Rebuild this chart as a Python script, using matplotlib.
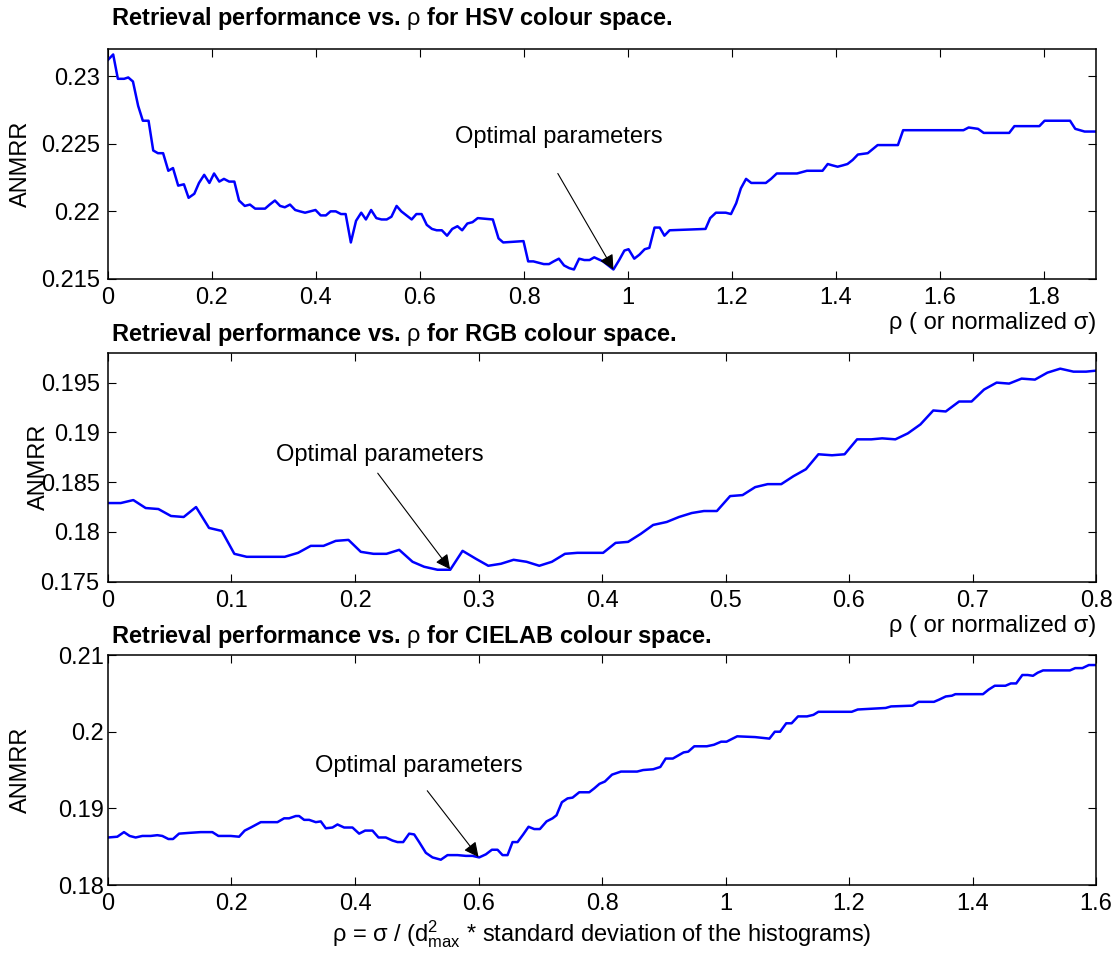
import numpy as np
import matplotlib
matplotlib.use("Agg")
import matplotlib.pyplot as plt
from matplotlib import font_manager
from matplotlib.ticker import FormatStrFormatter

# ==========================================
# Data
# ==========================================

# HSV colour space
hsv_rho = [0.000, 0.010, 0.019, 0.031, 0.039, 0.048, 0.058, 0.067, 0.078, 0.087,
           0.096, 0.106, 0.116, 0.125, 0.135, 0.146, 0.155, 0.166, 0.175, 0.185,
           0.195, 0.204, 0.214, 0.223, 0.233, 0.243, 0.252, 0.263, 0.273, 0.283,
           0.292, 0.302, 0.311, 0.321, 0.331, 0.340, 0.350, 0.360, 0.369, 0.379,
           0.389, 0.399, 0.409, 0.419, 0.428, 0.438, 0.448, 0.457, 0.467, 0.477,
           0.487, 0.496, 0.506, 0.516, 0.526, 0.536, 0.545, 0.555, 0.564, 0.574,
           0.584, 0.593, 0.603, 0.613, 0.623, 0.632, 0.642, 0.652, 0.662, 0.672,
           0.681, 0.691, 0.701, 0.711, 0.740, 0.751, 0.760, 0.799, 0.808, 0.818,
           0.838, 0.848, 0.857, 0.867, 0.877, 0.887, 0.896, 0.906, 0.916, 0.926,
           0.935, 0.952, 0.962, 0.972, 0.983, 0.993, 1.001, 1.012, 1.022, 1.032,
           1.041, 1.051, 1.061, 1.070, 1.080, 1.149, 1.158, 1.169, 1.188, 1.198,
           1.208, 1.217, 1.227, 1.237, 1.265, 1.275, 1.286, 1.325, 1.344, 1.374,
           1.384, 1.393, 1.403, 1.413, 1.422, 1.432, 1.442, 1.461, 1.480, 1.519,
           1.529, 1.558, 1.587, 1.645, 1.655, 1.673, 1.684, 1.733, 1.743, 1.791,
           1.801, 1.850, 1.860, 1.878, 1.900]
hsv_anmrr = [0.2312, 0.2316, 0.2298, 0.2298, 0.2299, 0.2296, 0.2278, 0.2267, 0.2267, 0.2245,
             0.2243, 0.2243, 0.2230, 0.2232, 0.2219, 0.2220, 0.2210, 0.2213, 0.2221, 0.2227,
             0.2221, 0.2228, 0.2222, 0.2224, 0.2222, 0.2222, 0.2208, 0.2204, 0.2205, 0.2202,
             0.2202, 0.2202, 0.2205, 0.2208, 0.2204, 0.2203, 0.2205, 0.2201, 0.2200, 0.2199,
             0.2200, 0.2201, 0.2197, 0.2197, 0.2200, 0.2200, 0.2198, 0.2198, 0.2177, 0.2193,
             0.2199, 0.2194, 0.2201, 0.2195, 0.2194, 0.2194, 0.2196, 0.2204, 0.2200, 0.2197,
             0.2194, 0.2198, 0.2198, 0.2190, 0.2187, 0.2186, 0.2186, 0.2182, 0.2187, 0.2189,
             0.2186, 0.2191, 0.2192, 0.2195, 0.2194, 0.2180, 0.2177, 0.2178, 0.2163, 0.2163,
             0.2161, 0.2161, 0.2163, 0.2165, 0.2160, 0.2158, 0.2157, 0.2165, 0.2164, 0.2164,
             0.2166, 0.2163, 0.2160, 0.2157, 0.2164, 0.2171, 0.2172, 0.2165, 0.2168, 0.2172,
             0.2173, 0.2188, 0.2188, 0.2182, 0.2186, 0.2187, 0.2195, 0.2199, 0.2199, 0.2198,
             0.2206, 0.2217, 0.2224, 0.2221, 0.2221, 0.2224, 0.2228, 0.2228, 0.2230, 0.2230,
             0.2235, 0.2234, 0.2233, 0.2234, 0.2235, 0.2238, 0.2242, 0.2243, 0.2249, 0.2249,
             0.2260, 0.2260, 0.2260, 0.2260, 0.2262, 0.2261, 0.2258, 0.2258, 0.2263, 0.2263,
             0.2267, 0.2267, 0.2261, 0.2259, 0.2259]

# RGB colour space
rgb_rho = [0.0000, 0.0103, 0.0205, 0.0305, 0.0408, 0.0510, 0.0613, 0.0713, 0.0818, 0.0921,
           0.1023, 0.1123, 0.1226, 0.1329, 0.1431, 0.1539, 0.1642, 0.1745, 0.1844, 0.1947,
           0.2047, 0.2150, 0.2255, 0.2358, 0.2466, 0.2560, 0.2668, 0.2771, 0.2871, 0.2979,
           0.3079, 0.3181, 0.3284, 0.3389, 0.3492, 0.3594, 0.3700, 0.3800, 0.3900, 0.4009,
           0.4110, 0.4211, 0.4313, 0.4414, 0.4524, 0.4623, 0.4727, 0.4825, 0.4930, 0.5037,
           0.5138, 0.5240, 0.5341, 0.5451, 0.5550, 0.5651, 0.5752, 0.5862, 0.5964, 0.6065,
           0.6181, 0.6268, 0.6375, 0.6476, 0.6578, 0.6682, 0.6783, 0.6891, 0.6992, 0.7093,
           0.7195, 0.7296, 0.7397, 0.7505, 0.7606, 0.7710, 0.7817, 0.7919, 0.8000]
rgb_anmrr = [0.1829, 0.1829, 0.1832, 0.1824, 0.1823, 0.1816, 0.1815, 0.1825, 0.1804, 0.1801,
             0.1778, 0.1775, 0.1775, 0.1775, 0.1775, 0.1779, 0.1786, 0.1786, 0.1791, 0.1792,
             0.1780, 0.1778, 0.1778, 0.1782, 0.1770, 0.1765, 0.1762, 0.1762, 0.1781, 0.1773,
             0.1766, 0.1768, 0.1772, 0.1770, 0.1766, 0.1770, 0.1778, 0.1779, 0.1779, 0.1779,
             0.1789, 0.1790, 0.1798, 0.1807, 0.1810, 0.1815, 0.1819, 0.1821, 0.1821, 0.1836,
             0.1837, 0.1845, 0.1848, 0.1848, 0.1856, 0.1863, 0.1878, 0.1877, 0.1878, 0.1893,
             0.1893, 0.1894, 0.1893, 0.1899, 0.1908, 0.1922, 0.1921, 0.1931, 0.1931, 0.1943,
             0.1950, 0.1949, 0.1954, 0.1953, 0.1960, 0.1964, 0.1961, 0.1961, 0.1962]

# CIELAB colour space
lab_rho = [0.0000, 0.0151, 0.0259, 0.0351, 0.0448, 0.0556, 0.0691, 0.0799, 0.0880, 0.0978,
           0.1053, 0.1150, 0.1312, 0.1501, 0.1690, 0.1788, 0.1988, 0.2123, 0.2214, 0.2312,
           0.2474, 0.2744, 0.2852, 0.2933, 0.3041, 0.3095, 0.3176, 0.3257, 0.3365, 0.3446,
           0.3527, 0.3635, 0.3716, 0.3824, 0.3959, 0.4067, 0.4164, 0.4283, 0.4380, 0.4499,
           0.4607, 0.4688, 0.4780, 0.4877, 0.4958, 0.5039, 0.5147, 0.5255, 0.5390, 0.5498,
           0.5660, 0.5795, 0.5903, 0.6011, 0.6119, 0.6217, 0.6308, 0.6389, 0.6470, 0.6551,
           0.6632, 0.6724, 0.6810, 0.6902, 0.6994, 0.7102, 0.7199, 0.7263, 0.7350, 0.7442,
           0.7523, 0.7631, 0.7793, 0.7873, 0.7959, 0.8046, 0.8162, 0.8307, 0.8568, 0.8666,
           0.8828, 0.8944, 0.9031, 0.9147, 0.9234, 0.9321, 0.9396, 0.9494, 0.9697, 0.9813,
           0.9929, 1.0016, 1.0189, 1.0479, 1.0711, 1.0798, 1.0884, 1.0983, 1.1070, 1.1174,
           1.1319, 1.1423, 1.1504, 1.2043, 1.2141, 1.2361, 1.2593, 1.2680, 1.3027, 1.3126,
           1.3375, 1.3462, 1.3566, 1.3665, 1.3722, 1.4169, 1.4261, 1.4360, 1.4533, 1.4620,
           1.4707, 1.4806, 1.4893, 1.4979, 1.5055, 1.5142, 1.5576, 1.5663, 1.5779, 1.5883,
           1.6000]
lab_anmrr = [0.1862, 0.1863, 0.1869, 0.1864, 0.1862, 0.1864, 0.1864, 0.1865, 0.1864, 0.1860,
             0.1860, 0.1867, 0.1868, 0.1869, 0.1869, 0.1864, 0.1864, 0.1863, 0.1871, 0.1875,
             0.1882, 0.1882, 0.1887, 0.1887, 0.1890, 0.1890, 0.1885, 0.1885, 0.1882, 0.1883,
             0.1874, 0.1875, 0.1879, 0.1875, 0.1875, 0.1867, 0.1871, 0.1871, 0.1862, 0.1862,
             0.1858, 0.1856, 0.1856, 0.1867, 0.1866, 0.1856, 0.1842, 0.1836, 0.1833, 0.1839,
             0.1839, 0.1838, 0.1838, 0.1836, 0.1840, 0.1846, 0.1846, 0.1839, 0.1839, 0.1856,
             0.1856, 0.1866, 0.1876, 0.1873, 0.1873, 0.1883, 0.1887, 0.1891, 0.1908, 0.1913,
             0.1914, 0.1921, 0.1921, 0.1926, 0.1932, 0.1935, 0.1944, 0.1948, 0.1948, 0.1950,
             0.1951, 0.1954, 0.1965, 0.1965, 0.1969, 0.1973, 0.1974, 0.1981, 0.1981, 0.1983,
             0.1987, 0.1987, 0.1994, 0.1993, 0.1991, 0.2000, 0.2000, 0.2011, 0.2011, 0.2020,
             0.2020, 0.2022, 0.2026, 0.2026, 0.2029, 0.2030, 0.2031, 0.2033, 0.2034, 0.2039,
             0.2039, 0.2042, 0.2046, 0.2047, 0.2049, 0.2049, 0.2055, 0.2060, 0.2060, 0.2063,
             0.2063, 0.2074, 0.2074, 0.2073, 0.2077, 0.2080, 0.2080, 0.2083, 0.2083, 0.2087,
             0.2087]

# axis ticks and limits
hsv_xticks = [0, 0.2, 0.4, 0.6, 0.8, 1.0, 1.2, 1.4, 1.6, 1.8]
hsv_yticks = [0.215, 0.22, 0.225, 0.23]
rgb_xticks = [0, 0.1, 0.2, 0.3, 0.4, 0.5, 0.6, 0.7, 0.8]
rgb_yticks = [0.175, 0.18, 0.185, 0.19, 0.195]
lab_xticks = [0, 0.2, 0.4, 0.6, 0.8, 1.0, 1.2, 1.4, 1.6]
lab_yticks = [0.18, 0.19, 0.2, 0.21]

# where the "Optimal parameters" note and arrow sit (data coords)
hsv_note = (0.867, 0.2255)
hsv_arrow = ((0.865, 0.2228), (0.972, 0.2157))
rgb_note = (0.220, 0.1877)
rgb_arrow = ((0.2184, 0.1859), (0.277, 0.17625))
lab_note = (0.504, 0.1955)
lab_arrow = ((0.517, 0.1923), (0.600, 0.18365))

# ==========================================
# Style
# ==========================================
plt.rcParams['font.family'] = ['Liberation Sans', 'DejaVu Sans']
plt.rcParams['mathtext.fontset'] = 'custom'
plt.rcParams['mathtext.default'] = 'regular'

installed = {f.name for f in font_manager.fontManager.ttflist}
narrow = 'Liberation Sans Narrow' if 'Liberation Sans Narrow' in installed else 'Liberation Sans'
plt.rcParams['mathtext.rm'] = 'Liberation Sans'

FS = 17

fig = plt.figure(figsize=(11.19, 9.58), dpi=100)
ax1 = fig.add_axes([0.0965, 0.7088, 0.883, 0.240])
ax2 = fig.add_axes([0.0965, 0.3928, 0.883, 0.239])
ax3 = fig.add_axes([0.0965, 0.0762, 0.883, 0.240])


def style_axes(ax, xticks, yticks, xlim, ylim, family):
    ax.set_xlim(*xlim)
    ax.set_ylim(*ylim)
    ax.set_xticks(xticks)
    ax.set_yticks(yticks)
    ax.xaxis.set_major_formatter(FormatStrFormatter('%g'))
    ax.yaxis.set_major_formatter(FormatStrFormatter('%g'))
    ax.tick_params(direction='in', top=True, right=True, length=6, width=0.8,
                   labelsize=FS, pad=6)
    for lab in ax.get_xticklabels() + ax.get_yticklabels():
        lab.set_family(family)
    for sp in ax.spines.values():
        sp.set_linewidth(1.1)


def add_note(ax, note, arrow):
    ax.text(note[0], note[1], 'Optimal parameters', fontsize=FS, ha='center', va='center')
    ax.annotate('', xy=arrow[1], xytext=arrow[0],
                arrowprops=dict(arrowstyle='-|>', color='k', lw=0.8,
                                mutation_scale=22, shrinkA=0, shrinkB=0))


def add_title(ax, space, pad):
    # bold title, but the rho stays in the regular weight like the original
    ax.set_title('Retrieval performance vs. $\\mathrm{\\rho}$ for %s colour space.' % space,
                 loc='left', fontsize=FS, fontweight='bold', pad=pad, x=0.003)


# ---- HSV ----
ax1.plot(hsv_rho, hsv_anmrr, color='#0000ff', lw=1.8)
style_axes(ax1, hsv_xticks, hsv_yticks, (0, 1.9), (0.215, 0.232), 'Liberation Sans')
add_title(ax1, 'HSV', 17)
ax1.set_ylabel('ANMRR', fontsize=FS)
ax1.yaxis.set_label_coords(-0.077, 0.5)
ax1.text(1.0, -0.145, 'ρ ( or normalized σ)', transform=ax1.transAxes,
         ha='right', va='top', fontsize=FS)
add_note(ax1, hsv_note, hsv_arrow)

# ---- RGB ----
ax2.plot(rgb_rho, rgb_anmrr, color='#0000ff', lw=1.8)
style_axes(ax2, rgb_xticks, rgb_yticks, (0, 0.8), (0.175, 0.198), 'Liberation Sans')
add_title(ax2, 'RGB', 8.5)
ax2.set_ylabel('ANMRR', fontsize=FS)
ax2.yaxis.set_label_coords(-0.059, 0.5)
ax2.text(1.0, -0.145, 'ρ ( or normalized σ)', transform=ax2.transAxes,
         ha='right', va='top', fontsize=FS)
add_note(ax2, rgb_note, rgb_arrow)

# ---- CIELAB ----
ax3.plot(lab_rho, lab_anmrr, color='#0000ff', lw=1.8)
style_axes(ax3, lab_xticks, lab_yticks, (0, 1.6), (0.18, 0.21), narrow)
ax3.tick_params(axis='y', pad=3)
add_title(ax3, 'CIELAB', 9)
ax3.set_ylabel('ANMRR', fontsize=FS)
ax3.yaxis.set_label_coords(-0.077, 0.5)
ax3.set_xlabel(r'ρ = σ / (d$^2_{max}$ * standard deviation of the histograms)',
               fontsize=FS, family=narrow, labelpad=2)
add_note(ax3, lab_note, lab_arrow)

fig.savefig('out.png', dpi=100)
